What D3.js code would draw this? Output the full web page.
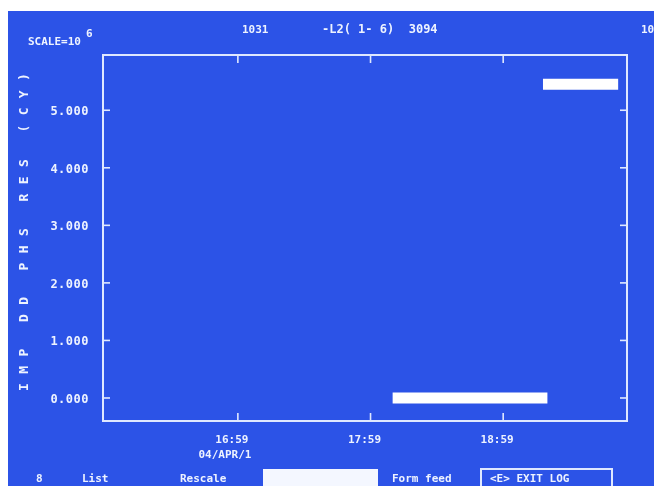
<!DOCTYPE html>
<html>
<head>
<meta charset='UTF-8'>
<title>IMP DD PHS RES</title>
<script src='https://d3js.org/d3.v7.min.js'></script>
<style>
    body { margin: 0; background: #ffffff; }
    svg { display: block; }
    text { font-family: 'DejaVu Sans Mono', monospace; font-weight: bold; fill: #eef3ff; }
</style>
</head>
<body>
<div id='chart'></div>
<script type='text/javascript'>
    // values
    var xTickLabels = ['16:59', '17:59', '18:59'];
    var yTicks = [0, 1, 2, 3, 4, 5];
    var lowTimes = ['18:09', '18:30', '18:50', '19:10', '19:19'];
    var lowValues = [0.0, 0.0, 0.0, 0.0, 0.0];
    var highTimes = ['19:17', '19:30', '19:40', '19:51'];
    var highValues = [5.45, 5.45, 5.45, 5.45];
    var menuItems = ['8', 'List', 'Rescale', 'Form feed'];

    var width = 654,
        height = 486;

    var margin = {top: 55, right: 27, bottom: 65, left: 103};

    var parseT = function(s) { return d3.timeParse('%Y-%m-%d %H:%M')('2004-04-01 ' + s); };

    var svg = d3.select('#chart').append('svg')
                .attr('width', width)
                .attr('height', height);

    var defs = svg.append('defs');
    defs.append('filter').attr('id', 'soft')
        .append('feGaussianBlur').attr('stdDeviation', 0.6);

    // screen area (photo has white edge top/left)
    svg.append('rect')
       .attr('x', 8).attr('y', 11)
       .attr('width', width - 8).attr('height', height - 11)
       .attr('fill', '#2c53e7');

    var g = svg.append('g').attr('filter', 'url(#soft)');

    var x = d3.scaleTime()
              .domain([parseT('15:58'), parseT('19:55')])
              .range([margin.left, width - margin.right]);
    var y = d3.scaleLinear()
              .domain([-0.4, 5.96])
              .range([height - margin.bottom, margin.top]);

    var x0 = margin.left, x1 = width - margin.right,
        y0 = margin.top, y1 = height - margin.bottom;

    // frame
    g.append('rect')
     .attr('x', x0).attr('y', y0)
     .attr('width', x1 - x0).attr('height', y1 - y0)
     .attr('fill', 'none')
     .attr('stroke', '#dfe8ff')
     .attr('stroke-width', 2);

    var tickColor = '#dfe8ff';
    var xTickDates = xTickLabels.map(parseT);

    // y ticks, both sides, pointing inward
    yTicks.forEach(function(v) {
        g.append('line').attr('x1', x0).attr('x2', x0 + 7)
         .attr('y1', y(v)).attr('y2', y(v))
         .attr('stroke', tickColor).attr('stroke-width', 1.6);
        g.append('line').attr('x1', x1 - 7).attr('x2', x1)
         .attr('y1', y(v)).attr('y2', y(v))
         .attr('stroke', tickColor).attr('stroke-width', 1.6);
        g.append('text')
         .attr('x', 89).attr('y', y(v) + 5)
         .attr('text-anchor', 'end')
         .attr('font-size', 12)
         .attr('letter-spacing', 0.5)
         .text(d3.format('.3f')(v));
    });

    // x ticks top and bottom
    xTickDates.forEach(function(d, i) {
        g.append('line').attr('x1', x(d)).attr('x2', x(d))
         .attr('y1', y0).attr('y2', y0 + 8)
         .attr('stroke', tickColor).attr('stroke-width', 1.6);
        g.append('line').attr('x1', x(d)).attr('x2', x(d))
         .attr('y1', y1 - 8).attr('y2', y1)
         .attr('stroke', tickColor).attr('stroke-width', 1.6);
        g.append('text')
         .attr('x', x(d) - 6).attr('y', 443)
         .attr('text-anchor', 'middle')
         .attr('font-size', 11)
         .text(xTickLabels[i]);
    });

    g.append('text').attr('x', 225).attr('y', 458)
     .attr('text-anchor', 'middle').attr('font-size', 11)
     .text('04/APR/1');

    // data traces (dense samples drawn as thick runs)
    var line = d3.line()
                 .x(function(d) { return x(d.t); })
                 .y(function(d) { return y(d.v); });

    var lowData = lowTimes.map(function(t, i) { return {t: parseT(t), v: lowValues[i]}; });
    var highData = highTimes.map(function(t, i) { return {t: parseT(t), v: highValues[i]}; });

    [lowData, highData].forEach(function(data) {
        g.append('path')
         .datum(data)
         .attr('d', line)
         .attr('fill', 'none')
         .attr('stroke', '#ffffff')
         .attr('stroke-width', 11)
         .attr('stroke-linecap', 'butt');
    });

    // header
    g.append('text').attr('x', 28).attr('y', 45).attr('font-size', 11).text('SCALE=10');
    g.append('text').attr('x', 86).attr('y', 37).attr('font-size', 11).text('6');
    g.append('text').attr('x', 242).attr('y', 33).attr('font-size', 11).text('1031');
    g.append('text').attr('x', 322).attr('y', 33).attr('font-size', 12)
     .attr('xml:space', 'preserve').text('-L2( 1- 6)  3094');
    g.append('text').attr('x', 641).attr('y', 33).attr('font-size', 11).text('10');

    // y axis title
    g.append('text')
     .attr('transform', 'translate(28,' + 391 + ') rotate(-90)')
     .attr('font-size', 13)
     .attr('letter-spacing', 9.4)
     .attr('xml:space', 'preserve')
     .text('IMP DD PHS RES (CY)');

    // menu row
    var menuX = [36, 82, 180, 392];
    menuItems.forEach(function(m, i) {
        g.append('text').attr('x', menuX[i]).attr('y', 482)
         .attr('font-size', 11)
         .attr('xml:space', 'preserve').text(m);
    });

    g.append('rect').attr('x', 263).attr('y', 469)
     .attr('width', 115).attr('height', 20)
     .attr('fill', '#f4f7ff');

    g.append('rect').attr('x', 481).attr('y', 469)
     .attr('width', 131).attr('height', 20)
     .attr('fill', 'none').attr('stroke', '#dfe8ff').attr('stroke-width', 2);
    g.append('text').attr('x', 490).attr('y', 482)
     .attr('font-size', 11)
     .text('<E> EXIT LOG');
</script>
</body>
</html>
